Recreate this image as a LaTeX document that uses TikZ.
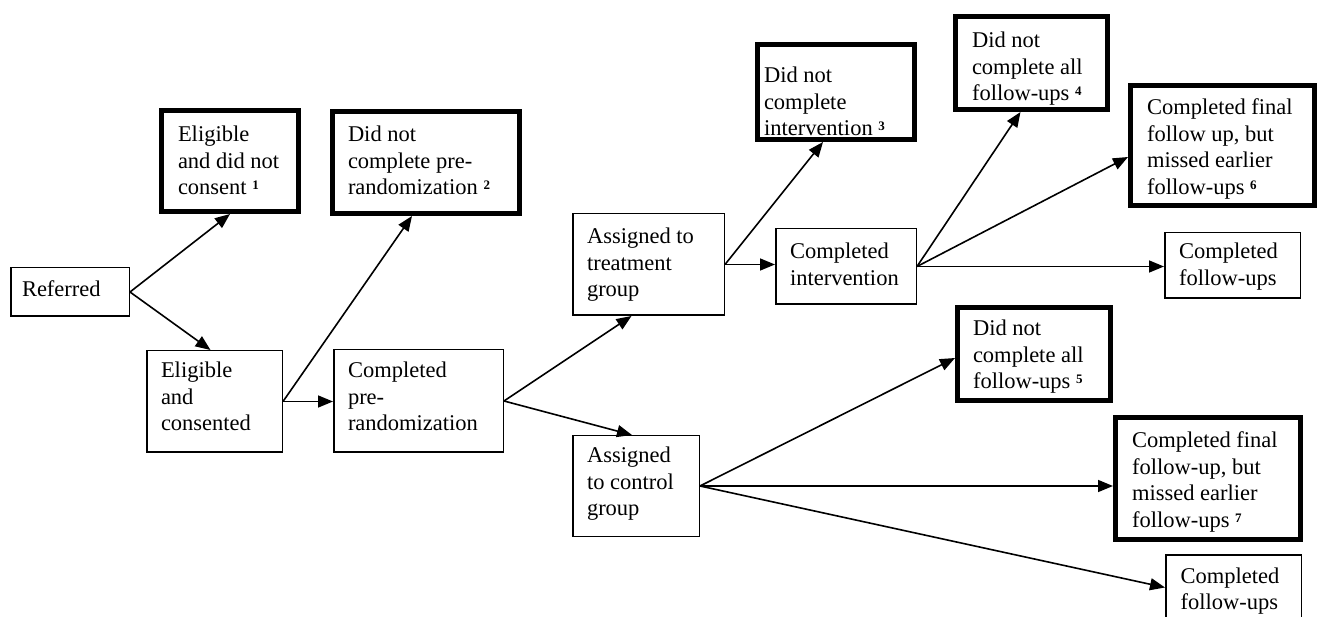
\documentclass[tikz,border=0pt]{standalone}
\usepackage{fontspec}
\setmainfont{Liberation Serif}
\usetikzlibrary{arrows.meta}
\newcommand{\sups}[1]{\ \raisebox{5pt}{\fontsize{13}{13}\selectfont\bfseries #1}}
% name, cx, cy, W, H, style, padx, vpad, text
\newcommand{\bx}[9]{\node[#6, minimum width=#4pt, minimum height=#5pt] (#1) at (#2,#3)
  {\parbox[c][#5pt][t]{#4pt}{\leftskip=#7pt\relax\vspace*{#8pt}\strut #9}};}
\begin{document}
\begin{tikzpicture}[x=1pt,y=-1pt,
  plainbox/.style={draw, line width=1.5pt, inner sep=0pt, font=\fontsize{22.5}{26.5}\selectfont},
  boldbox/.style={draw, line width=5pt, inner sep=0pt, font=\fontsize{22.5}{26.5}\selectfont},
  conn/.style={line width=1.6pt, -{Triangle[length=15pt,width=12pt]}}]
\useasboundingbox (0,0) rectangle (1318,617);
\clip (0,0) rectangle (1318,617);

\bx{ref}{70}{292}{118.5}{48.5}{plainbox}{11.25}{10.7}{Referred}
\bx{ednc}{230}{161}{137}{101}{boldbox}{16.5}{12.95}{Eligible\\and did not\\consent\sups{1}}
\bx{dncpr}{426}{162.5}{187}{102}{boldbox}{15.5}{11.95}{Did not\\complete pre-\\randomization\sups{2}}
\bx{ec}{214.5}{401.5}{135.5}{101.5}{plainbox}{14.25}{8.7}{Eligible\\and\\consented}
\bx{cpr}{418.5}{401}{169.5}{102.5}{plainbox}{14.25}{9.7}{Completed\\pre-\\randomization}
\bx{at}{648.5}{264.5}{151.5}{101.5}{plainbox}{14.25}{11.7}{Assigned to\\treatment\\group}
\bx{ac}{636}{486}{126.5}{100.5}{plainbox}{14.25}{8.7}{Assigned\\to control\\group}
\bx{dnci}{836}{92}{157}{95}{boldbox}{6.5}{19.95}{Did not\\complete\\intervention\sups{3}}
\bx{ci}{846}{266.5}{140.5}{75.5}{plainbox}{14.25}{11.7}{Completed\\intervention}
\bx{dnc4}{1031.5}{63}{152}{93}{boldbox}{16.5}{12.95}{Did not\\complete all\\follow-ups\sups{4}}
\bx{cff6}{1222.5}{145.5}{184}{120}{boldbox}{16.5}{10.95}{Completed final\\follow up, but\\missed earlier\\follow-ups\sups{6}}
\bx{cfu}{1232.5}{265.5}{135.5}{65.5}{plainbox}{14.25}{7.7}{Completed\\follow-ups}
\bx{dnc5}{1034}{354}{153}{93}{boldbox}{15.5}{9.95}{Did not\\complete all\\follow-ups\sups{5}}
\bx{cff7}{1208}{478.5}{185}{122}{boldbox}{16.5}{11.95}{Completed final\\follow-up, but\\missed earlier\\follow-ups\sups{7}}
\bx{cfu2}{1233.5}{587.5}{135.5}{65.5}{plainbox}{14.75}{9.7}{Completed\\follow-ups}

\draw[conn] (ref.east) -- (ednc.south);
\draw[conn] (ref.east) -- ([xshift=-4pt]ec.north);
\draw[conn] (ec.east) -- (ec.east -| cpr.west);
\draw[conn] (ec.east) -- ([xshift=-14pt]dncpr.south);
\draw[conn] (cpr.east) -- ([xshift=-17pt]at.south);
\draw[conn] (cpr.east) -- ([xshift=-4pt]ac.north);
\draw[conn] (at.east) -- (at.east -| ci.west);
\draw[conn] (at.east) -- ([xshift=-13pt]dnci.south);
\draw[conn] (ci.east) -- ([xshift=-11pt]dnc4.south);
\draw[conn] (ci.east) -- ([yshift=-11.5pt]cff6.west);
\draw[conn] (ci.east) -- (ci.east -| cfu.west);
\draw[conn] (ac.east) -- ([yshift=-4pt]dnc5.west);
\draw[conn] (ac.east) -- (ac.east -| cff7.west);
\draw[conn] (ac.east) -- (cfu2.west);
\end{tikzpicture}
\end{document}
